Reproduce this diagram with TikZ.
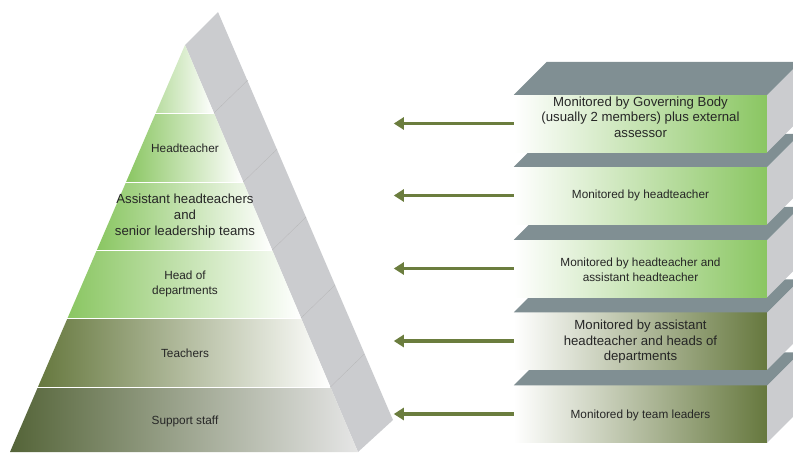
\documentclass[tikz,border=0pt]{standalone}
\usepackage{fontspec}
\setmainfont{Liberation Sans}
\usetikzlibrary{arrows.meta,positioning,calc}
\definecolor{leafgreen}{RGB}{138,198,98}
\definecolor{olivegreen}{RGB}{102,120,62}
\definecolor{darkolive}{RGB}{84,100,56}
\definecolor{slabtop}{RGB}{128,143,147}
\definecolor{slabside}{RGB}{203,204,207}
\definecolor{arrowgreen}{RGB}{107,125,62}
\tikzset{
  layertext/.style={align=center, font=\fontsize{11.8}{14.5}\selectfont, text=black!85},
  bigtext/.style={align=center, font=\fontsize{13.2}{15.5}\selectfont, text=black!85},
  greenslab/.style={minimum width=253pt, minimum height=57pt, inner sep=0pt, left color=white, middle color=leafgreen!70!white, right color=leafgreen},
  oliveslab/.style={minimum width=253pt, minimum height=57pt, inner sep=0pt, left color=white, middle color=gray!45, right color=olivegreen},
  slabtopface/.style={fill=slabtop},
  slabsideface/.style={fill=slabside},
  sideface/.style={fill=slabside},
  seam/.style={draw=gray!60, very thin},
  arrow/.style={-{Triangle[length=10pt, width=12pt]}, line width=3.6pt, arrowgreen}
}

\begin{document}
\begin{tikzpicture}[x=1pt, y=-1pt]
  \useasboundingbox (0,0) rectangle (793,453);
  % pyramid
  \coordinate (apex) at (185,45);
  \coordinate (bl) at (10,452);
  \coordinate (br) at (358,452);
  \fill[sideface] (apex) -- ++(33,-33) -- ($(br)+(35,-32)$) -- (br) -- cycle;
  \begin{scope}
    \clip (apex) -- (bl) -- (br) -- cycle;
    \foreach \ya/\yb/\ca/\cm/\cb in {45/113/leafgreen!60!white/leafgreen!40!white/white,
        113/182/leafgreen/leafgreen!75!white/white,
        182/250/leafgreen/leafgreen!75!white/white,
        250/318/leafgreen/leafgreen!80!white/white,
        318/387/olivegreen/gray!55/white,
        387/452/darkolive/gray!60/gray!20} {
      \pgfmathsetmacro{\xl}{185-175/407*(\yb-45)}
      \pgfmathsetmacro{\xr}{185+173/407*(\yb-45)}
      \shade[left color=\ca, middle color=\cm, right color=\cb] (\xl,\ya) rectangle (\xr,\yb);
    }
  \end{scope}
  \foreach \yb in {113,182,250,318,387} {
    \pgfmathsetmacro{\xr}{185+173/407*(\yb-45)}
    \draw[white, thin] (10,\yb) -- (\xr,\yb);
    \draw[seam] (\xr,\yb) -- ++(34,-33);
  }
  \node[layertext] (head) at (185,148) {Headteacher};
  \node[bigtext, font=\fontsize{13.2}{16}\selectfont] (assist) at (185,216) {Assistant headteachers\\and\\senior leadership teams};
  \node[layertext] (dept) at (185,284) {Head of\\departments};
  \node[layertext] (teach) at (185,353) {Teachers};
  \node[layertext] (support) at (185,421) {Support staff};
  % monitoring slabs, lowest first
  \foreach \n/\y/\dy/\st/\ft/\txt in {5/414/1/oliveslab/layertext/{Monitored by team leaders},
      4/341/1/oliveslab/bigtext/{Monitored by assistant\\headteacher and heads of\\departments},
      3/268.5/1.5/greenslab/layertext/{Monitored by headteacher and\\assistant headteacher},
      2/195.5/0/greenslab/layertext/{Monitored by headteacher},
      1/123.5/-6.5/greenslab/bigtext/{Monitored by Governing Body\\(usually 2 members) plus external\\assessor}} {
    \node[\st] (b\n) at (640.5,\y) {};
    \fill[slabsideface] (b\n.north east) -- ++(33,-33) -- ($(b\n.south east)+(33,-33)$) -- (b\n.south east) -- cycle;
    \fill[slabtopface] (b\n.north west) -- (b\n.north east) -- ++(33,-33) -- ($(b\n.north west)+(33,-33)$) -- cycle;
    \node[\ft] (m\n) at ($(b\n)+(0,\dy)$) {\txt};
  }
  % arrows towards the pyramid
  \foreach \n in {1,...,5} {
    \coordinate (t\n) at ($(b\n.west)+(-120,0)$);
    \draw[arrow] (b\n.west) -- (t\n);
  }
\end{tikzpicture}
\end{document}
